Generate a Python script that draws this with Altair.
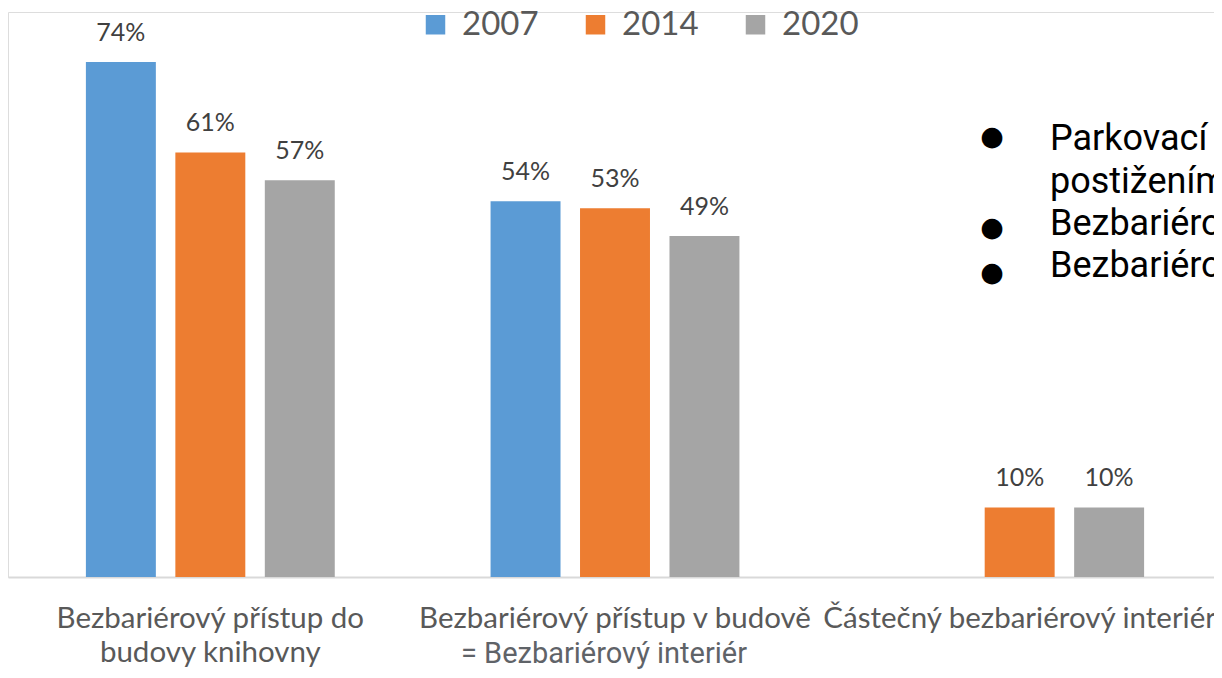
import altair as alt
import pandas as pd

categories = [
    "Bezbariérový přístup do budovy knihovny",
    "Bezbariérový přístup v budově",
    "Částečný bezbariérový interiér",
]
years = ["2007", "2014", "2020"]
values_2007 = [74, 54, None]
values_2014 = [61, 53, 10]
values_2020 = [57, 49, 10]
colors = ["#5B9BD5", "#ED7D31", "#A5A5A5"]

bullet_lines = [
    "Parkovací místo pro osoby se zdravotním",
    "postižením",
    "Bezbariérový vstup do budovy",
    "Bezbariérové toalety",
]
note_text = "= Bezbariérový interiér"

rows = []
for yr, vals in zip(years, [values_2007, values_2014, values_2020]):
    for cat, v in zip(categories, vals):
        if v is not None:
            rows.append({"cat": cat, "year": yr, "value": v, "label": f"{v}%"})
df = pd.DataFrame(rows)

label_expr = (
    "datum.value == 'Bezbariérový přístup do budovy knihovny' ? "
    "['Bezbariérový přístup do', 'budovy knihovny'] : datum.label"
)

x_enc = alt.X(
    "cat:N",
    sort=categories,
    scale=alt.Scale(paddingInner=0.385, paddingOuter=0.1925, range=[0, 1214]),
    axis=alt.Axis(
        title=None,
        labelAngle=0,
        labelFont="Lato",
        labelFontSize=29.5,
        labelColor="#595959",
        labelPadding=27,
        labelLineHeight=34,
        labelExpr=label_expr,
        labelLimit=600,
        ticks=False,
        tickSize=0,
        domainColor="#D9D9D9",
        domainWidth=2,
        grid=False,
    ),
)
xoff = alt.XOffset(
    "year:N",
    sort=years,
    scale=alt.Scale(domain=years, paddingInner=0.218, paddingOuter=0),
)
y_enc = alt.Y(
    "value:Q",
    scale=alt.Scale(domain=[0, 81.18], nice=False, zero=True),
    axis=None,
)

base = alt.Chart(df)

bars = base.mark_bar().encode(
    x=x_enc,
    xOffset=xoff,
    y=y_enc,
    color=alt.Color(
        "year:N",
        sort=years,
        scale=alt.Scale(domain=years, range=colors),
        legend=alt.Legend(
            title=None,
            orient="none",
            direction="horizontal",
            legendX=411,
            legendY=-4,
            padding=0,
            symbolType="square",
            symbolSize=380,
            symbolStrokeWidth=0,
            symbolOpacity=1,
            labelFont="Lato",
            labelFontSize=33,
            labelColor="#595959",
            labelOffset=10,
            columnPadding=40,
            labelLimit=300,
        ),
    ),
)

texts = base.mark_text(
    font="Lato", fontSize=25, color="#404040", baseline="alphabetic", dy=-21
).encode(x=x_enc, xOffset=xoff, y=y_enc, text="label:N")

note_df = pd.DataFrame({"t": [note_text]})
note = alt.Chart(note_df).mark_text(
    font="Roboto", fontSize=29, color="#5F6368", align="center", baseline="alphabetic"
).encode(x=alt.value(596), y=alt.value(651), text="t:N")

line_y = [138, 181, 223, 265]
bullet_layers = []
for i, t in enumerate(bullet_lines):
    d = pd.DataFrame({"t": [t]})
    bullet_layers.append(
        alt.Chart(d).mark_text(
            font="Roboto", fontSize=36, color="#000000", align="left", baseline="alphabetic"
        ).encode(x=alt.value(1042), y=alt.value(line_y[i]), text="t:N")
    )
bullet_y = [125, 216, 261]
for by in bullet_y:
    d = pd.DataFrame({"t": ["●"]})
    bullet_layers.append(
        alt.Chart(d).mark_text(
            font="DejaVu Sans", fontSize=27, color="#000000", align="center", baseline="middle"
        ).encode(x=alt.value(984), y=alt.value(by), text="t:N")
    )

chart = alt.layer(bars, texts, note, *bullet_layers).properties(
    width=1206,
    height=565,
    autosize=alt.AutoSizeParams(type="none"),
    padding={"left": 0, "right": 0, "top": 4, "bottom": 93},
).configure_view(stroke=None).configure(background="white")

chart.save("out.html", embed_options={"renderer": "svg", "actions": False})
